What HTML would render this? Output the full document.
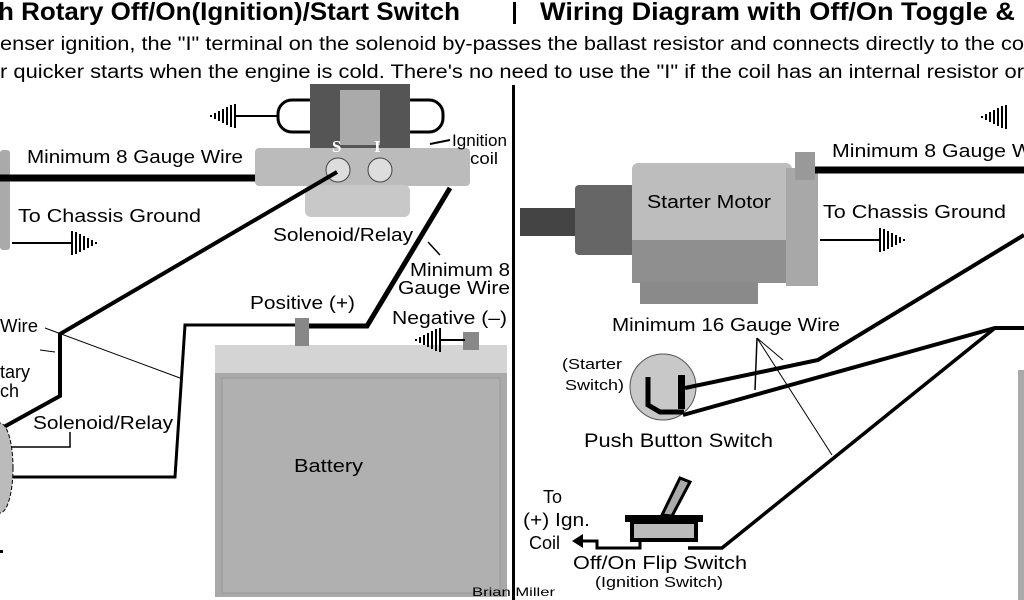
<!DOCTYPE html>
<html><head><meta charset="utf-8"><style>
html,body{margin:0;padding:0;background:#fff;width:1024px;height:600px;overflow:hidden}
svg{display:block}
text{font-family:"Liberation Sans",sans-serif;fill:#000}
</style></head><body>
<svg width="1024" height="600" viewBox="0 0 1024 600" xmlns="http://www.w3.org/2000/svg">
<defs>
<g id="gnd"><line x1="0" y1="-12" x2="0" y2="12" stroke="#000" stroke-width="2"/><line x1="4" y1="-11" x2="4" y2="11" stroke="#000" stroke-width="2"/><line x1="8" y1="-9" x2="8" y2="9" stroke="#000" stroke-width="2"/><line x1="12" y1="-7" x2="12" y2="7" stroke="#000" stroke-width="2"/><line x1="16" y1="-5" x2="16" y2="5" stroke="#000" stroke-width="2"/><line x1="20" y1="-3" x2="20" y2="3" stroke="#000" stroke-width="2"/><line x1="24" y1="-1" x2="24" y2="1" stroke="#000" stroke-width="2"/></g>
</defs>
<!-- header -->
<text x="-2" y="20" font-size="25" font-weight="bold" textLength="462" lengthAdjust="spacingAndGlyphs">h Rotary Off/On(Ignition)/Start Switch</text>
<rect x="513" y="2" width="3" height="22" fill="#000"/>
<text x="540" y="20" font-size="25" font-weight="bold" textLength="490" lengthAdjust="spacingAndGlyphs">Wiring Diagram with Off/On Toggle &amp; I</text>
<text x="0" y="50" font-size="19" textLength="1024" lengthAdjust="spacingAndGlyphs">enser ignition, the "I" terminal on the solenoid by-passes the ballast resistor and connects directly to the co</text>
<text x="0" y="78" font-size="19" textLength="1024" lengthAdjust="spacingAndGlyphs">r quicker starts when the engine is cold. There's no need to use the "I" if the coil has an internal resistor or</text>
<rect x="512" y="85" width="3" height="515" fill="#000"/>

<!-- LEFT -->
<rect x="0" y="150" width="10" height="100" fill="#aaa" rx="3"/>
<line x1="0" y1="178" x2="258" y2="178" stroke="#000" stroke-width="7"/>
<text x="27" y="163" font-size="18" textLength="216" lengthAdjust="spacingAndGlyphs">Minimum 8 Gauge Wire</text>
<text x="18" y="222" font-size="18" textLength="183" lengthAdjust="spacingAndGlyphs">To Chassis Ground</text>
<line x1="12" y1="243" x2="72" y2="243" stroke="#000" stroke-width="2"/>
<use href="#gnd" x="72" y="243"/>
<!-- solenoid -->
<rect x="278" y="100" width="165" height="32" rx="14" fill="#fff" stroke="#000" stroke-width="3"/>
<rect x="310" y="84" width="100" height="65" fill="#555"/>
<rect x="340" y="90" width="40" height="55" fill="#aaa"/>
<rect x="255" y="148" width="215" height="38" fill="#bbb" rx="4"/>
<rect x="305" y="185" width="105" height="32" fill="#c8c8c8" rx="6"/>
<circle cx="338" cy="170" r="12" fill="#ddd" stroke="#444"/>
<circle cx="380" cy="170" r="12" fill="#ddd" stroke="#444"/>
<text x="332" y="152" font-size="17" font-weight="bold" style="fill:#fff;font-family:'Liberation Serif',serif">S</text>
<text x="374" y="152" font-size="17" font-weight="bold" style="fill:#fff;font-family:'Liberation Serif',serif">I</text>
<line x1="235" y1="116" x2="278" y2="116" stroke="#000" stroke-width="2"/>
<use href="#gnd" x="-235" y="116" transform="scale(-1,1)"/>
<text x="452" y="146" font-size="17" textLength="55" lengthAdjust="spacingAndGlyphs">Ignition</text>
<text x="470" y="164" font-size="17" textLength="28" lengthAdjust="spacingAndGlyphs">coil</text>
<line x1="450" y1="140" x2="430" y2="144" stroke="#000" stroke-width="2"/>
<text x="273" y="241" font-size="18" textLength="140" lengthAdjust="spacingAndGlyphs">Solenoid/Relay</text>
<text x="410" y="276" font-size="18" textLength="100" lengthAdjust="spacingAndGlyphs">Minimum 8</text>
<text x="398" y="294" font-size="18" textLength="112" lengthAdjust="spacingAndGlyphs">Gauge Wire</text>
<line x1="440" y1="255" x2="428" y2="242" stroke="#000" stroke-width="1.5"/>
<!-- wires -->
<polyline points="2,428 60,396 60,334 337,172" fill="none" stroke="#000" stroke-width="4"/>
<polyline points="10,477 175,477 185,325 300,325" fill="none" stroke="#000" stroke-width="3"/>
<polyline points="305,326 367,326 450,188" fill="none" stroke="#000" stroke-width="5"/>
<text x="0" y="332" font-size="18" textLength="38" lengthAdjust="spacingAndGlyphs">Wire</text>
<text x="0" y="378" font-size="18">tary</text>
<text x="0" y="397" font-size="18">ch</text>
<line x1="45" y1="328" x2="180" y2="378" stroke="#000" stroke-width="1"/>
<line x1="40" y1="350" x2="55" y2="352" stroke="#000" stroke-width="1"/>
<text x="33" y="429" font-size="18" textLength="140" lengthAdjust="spacingAndGlyphs">Solenoid/Relay</text>
<polyline points="70,432 70,447 12,447" fill="none" stroke="#000" stroke-width="1.5"/>
<ellipse cx="0" cy="468" rx="13" ry="45" fill="#bbb" stroke="#000" stroke-dasharray="4,2"/>
<rect x="0" y="550" width="3" height="3" fill="#000"/>
<!-- battery -->
<rect x="215" y="345" width="292" height="252" fill="#a9a9a9"/>
<rect x="215" y="345" width="292" height="28" fill="#d4d4d4"/>
<rect x="222" y="378" width="278" height="215" fill="#b0b0b0" stroke="#999"/>
<rect x="295" y="318" width="14" height="28" fill="#888"/>
<rect x="463" y="332" width="16" height="18" fill="#888"/>
<text x="294" y="472" font-size="18" textLength="69" lengthAdjust="spacingAndGlyphs">Battery</text>
<text x="250" y="309" font-size="18" textLength="105" lengthAdjust="spacingAndGlyphs">Positive (+)</text>
<text x="392" y="324" font-size="18" textLength="115" lengthAdjust="spacingAndGlyphs">Negative (–)</text>
<line x1="440" y1="340" x2="465" y2="340" stroke="#000" stroke-width="2"/>
<use href="#gnd" x="-440" y="340" transform="scale(-1,1)"/>
<text x="472" y="596" font-size="12" textLength="83" lengthAdjust="spacingAndGlyphs">Brian Miller</text>

<!-- RIGHT -->
<rect x="520" y="208" width="58" height="28" fill="#444"/>
<rect x="575" y="185" width="60" height="70" fill="#666" rx="4"/>
<rect x="632" y="163" width="160" height="120" fill="#bdbdbd" rx="6"/>
<rect x="632" y="240" width="160" height="43" fill="#8f8f8f"/>
<rect x="786" y="168" width="32" height="118" fill="#a8a8a8"/>
<rect x="640" y="282" width="118" height="22" fill="#8a8a8a"/>
<rect x="795" y="152" width="20" height="28" fill="#999"/>
<text x="647" y="208" font-size="18" textLength="124" lengthAdjust="spacingAndGlyphs">Starter Motor</text>
<line x1="815" y1="170" x2="1024" y2="170" stroke="#000" stroke-width="7"/>
<text x="832" y="157" font-size="18" textLength="200" lengthAdjust="spacingAndGlyphs">Minimum 8 Gauge W</text>
<text x="823" y="218" font-size="18" textLength="183" lengthAdjust="spacingAndGlyphs">To Chassis Ground</text>
<line x1="820" y1="240" x2="880" y2="240" stroke="#000" stroke-width="2"/>
<use href="#gnd" x="880" y="240"/>
<use href="#gnd" x="-1006" y="117" transform="scale(-1,1)"/>
<text x="612" y="331" font-size="18" textLength="228" lengthAdjust="spacingAndGlyphs">Minimum 16 Gauge Wire</text>
<line x1="757" y1="338" x2="755" y2="390" stroke="#000" stroke-width="1.5"/>
<line x1="757" y1="338" x2="783" y2="360" stroke="#000" stroke-width="1"/>
<line x1="757" y1="338" x2="832" y2="455" stroke="#000" stroke-width="1"/>
<circle cx="663" cy="387" r="33" fill="#c8c8c8" stroke="#555"/>
<polyline points="648,377 648,405 660,412 684,412" fill="none" stroke="#000" stroke-width="5"/>
<rect x="678" y="375" width="7" height="34" fill="#000"/>
<polyline points="685,388 818,360 1024,235" fill="none" stroke="#000" stroke-width="4"/>
<polyline points="683,415 995,328 1024,328" fill="none" stroke="#000" stroke-width="4"/>
<polyline points="995,328 722,548 688,548" fill="none" stroke="#000" stroke-width="3.5"/>
<text x="562" y="369" font-size="15" textLength="60" lengthAdjust="spacingAndGlyphs">(Starter</text>
<text x="565" y="390" font-size="15" textLength="59" lengthAdjust="spacingAndGlyphs">Switch)</text>
<text x="584" y="447" font-size="19" textLength="189" lengthAdjust="spacingAndGlyphs">Push Button Switch</text>
<rect x="1018" y="370" width="6" height="230" fill="#aaa"/>
<!-- flip switch -->
<polygon points="662,515 680,478 690,482 672,516" fill="#aaa" stroke="#000" stroke-width="3"/>
<rect x="625" y="515" width="78" height="7" fill="#000"/>
<rect x="632" y="522" width="64" height="18" fill="#bbb" stroke="#000" stroke-width="4"/>
<polyline points="640,540 640,548 597,548 597,541 580,541" fill="none" stroke="#000" stroke-width="3"/>
<polygon points="572,541 583,534 583,548" fill="#000"/>
<text x="543" y="503" font-size="18">To</text>
<text x="523" y="526" font-size="18" textLength="67" lengthAdjust="spacingAndGlyphs">(+) Ign.</text>
<text x="529" y="549" font-size="18">Coil</text>
<text x="573" y="569" font-size="18" textLength="174" lengthAdjust="spacingAndGlyphs">Off/On Flip Switch</text>
<text x="595" y="587" font-size="15" textLength="128" lengthAdjust="spacingAndGlyphs">(Ignition Switch)</text>
</svg>
</body></html>
